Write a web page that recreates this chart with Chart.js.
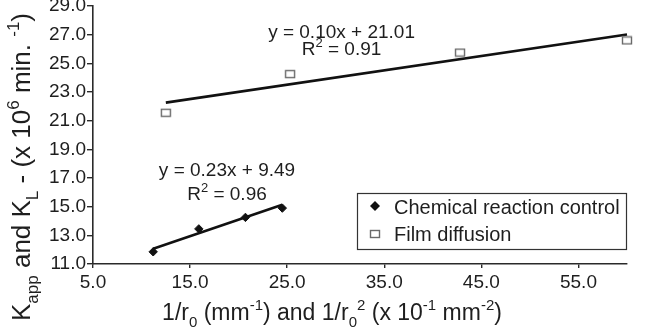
<!DOCTYPE html>
<html><head><meta charset="utf-8">
<script src="https://cdn.jsdelivr.net/npm/chart.js@4.4.1/dist/chart.umd.min.js"></script>
<style>html,body{margin:0;padding:0;background:#fff}#wrap{width:650px;height:328px}</style>
</head><body><div id="wrap"><canvas id="c" width="650" height="328"></canvas></div>
<script>
// ---- data ----
const chemX = [11.2, 15.9, 20.7, 24.5];
const chemY = [11.85, 13.45, 14.25, 14.9];
const filmX = [12.5, 25.3, 42.8, 60.0];
const filmY = [21.55, 24.25, 25.75, 26.6];
const chemTrendX = [11.2, 24.5];
const chemTrendY = [12.07, 15.13];
const filmTrendX = [12.5, 60.0];
const filmTrendY = [22.26, 27.01];
const xTicks = [5, 15, 25, 35, 45, 55];
const yTicks = [11, 13, 15, 17, 19, 21, 23, 25, 27, 29];
const seriesNames = ["Chemical reaction control", "Film diffusion"];
const filmEq = ["y = 0.10x + 21.01", "R2 = 0.91"];
const chemEq = ["y = 0.23x + 9.49", "R2 = 0.96"];

const FONT = "'Liberation Sans', Arial, Helvetica, sans-serif";
const TXT = "#1e1e1e";

function pts(xs, ys){ return xs.map((x,i)=>({x:x, y:ys[i]})); }

function richWidth(ctx, segs, f){
  let w=0;
  for(const [t,m] of segs){ ctx.font=(m==='n'?f:Math.round(f*0.66))+"px "+FONT; w+=ctx.measureText(t).width; }
  return w;
}
function drawRich(ctx, segs, x, y, f){
  let cx=x;
  for(const [t,m] of segs){
    const fs = m==='n'?f:Math.round(f*0.66);
    ctx.font=fs+"px "+FONT;
    const dy = m==='sub'? f*0.3 : (m==='sup'? -f*0.42 : 0);
    ctx.fillText(t, cx, y+dy);
    cx += ctx.measureText(t).width;
  }
}
function splitR2(s){ return [["R",'n'],["2",'sup'],[s.slice(2),'n']]; }

const sq = document.createElement('canvas'); sq.width=12; sq.height=10;
(function(){const g=sq.getContext('2d'); g.fillStyle='#fff'; g.fillRect(1,1,10,8); g.strokeStyle='#6a6a6a'; g.lineWidth=1.4; g.strokeRect(1.5,1.5,9,7);})();

const decor = {
  id:'decor',
  afterDraw(chart){
    const ctx=chart.ctx, xs=chart.scales.x, ys=chart.scales.y;
    ctx.save();
    ctx.fillStyle=TXT; ctx.textBaseline='alphabetic'; ctx.textAlign='left';
    function eq(lines, cxv, yv1, yv2, f){
      const px=xs.getPixelForValue(cxv);
      const s1=[[lines[0],'n']];
      let w=richWidth(ctx,s1,f); drawRich(ctx,s1,px-w/2,ys.getPixelForValue(yv1),f);
      const s2=splitR2(lines[1]);
      w=richWidth(ctx,s2,f); drawRich(ctx,s2,px-w/2,ys.getPixelForValue(yv2),f);
    }
    eq(filmEq, 30.6, 26.75, 25.55, 19);
    eq(chemEq, 18.8, 17.15, 15.45, 19);
    const xt=[["1/r",'n'],["0",'sub'],[" (mm",'n'],["-1",'sup'],[") and 1/r",'n'],["0",'sub'],["2",'sup'],[" (x 10",'n'],["-1",'sup'],[" mm",'n'],["-2",'sup'],[")",'n']];
    const xf=23;
    let w=richWidth(ctx,xt,xf);
    drawRich(ctx,xt,332-w/2,320,xf);
    const yt=[["K",'n'],["app",'sub'],[" and K",'n'],["L",'sub'],[" - (x 10",'n'],["6",'sup'],[" min. ",'n'],["-1",'sup'],[")",'n']];
    ctx.save(); ctx.translate(30,321); ctx.rotate(-Math.PI/2);
    drawRich(ctx,yt,0,0,26);
    ctx.restore();
    const lx=357, ly=193, lw=269, lh=56;
    ctx.strokeStyle='#333'; ctx.lineWidth=1.2;
    ctx.strokeRect(lx+0.5,ly+0.5,lw,lh);
    ctx.fillStyle=TXT; ctx.font="20px "+FONT;
    ctx.fillText(seriesNames[0], lx+37, ly+21);
    ctx.fillText(seriesNames[1], lx+37, ly+48);
    ctx.beginPath(); const mx=lx+18, my1=ly+13;
    ctx.moveTo(mx,my1-5); ctx.lineTo(mx+5,my1); ctx.lineTo(mx,my1+5); ctx.lineTo(mx-5,my1); ctx.closePath();
    ctx.fillStyle='#111'; ctx.fill();
    ctx.drawImage(sq, mx-6, ly+36);
    ctx.restore();
  }
};

new Chart(document.getElementById('c'), {
  type:'scatter',
  data:{ datasets:[
    {label:'chemTrend', data:pts(chemTrendX,chemTrendY), showLine:true, borderColor:'#111', borderWidth:2.6, pointRadius:0, order:2, clip:false},
    {label:'filmTrend', data:pts(filmTrendX,filmTrendY), showLine:true, borderColor:'#111', borderWidth:2.6, pointRadius:0, order:2, clip:false},
    {label:seriesNames[0], data:pts(chemX,chemY), pointStyle:'rectRot', pointRadius:4.2, backgroundColor:'#111', borderColor:'#111', borderWidth:1, order:1, clip:false},
    {label:seriesNames[1], data:pts(filmX,filmY), pointStyle:sq, pointRadius:5, order:1, clip:false}
  ]},
  options:{
    responsive:false, animation:false, devicePixelRatio:1,
    layout:{padding:{top:5,right:23,left:0,bottom:0}},
    plugins:{legend:{display:false}, tooltip:{enabled:false}},
    scales:{
      x:{type:'linear', min:5, max:60,
        afterBuildTicks:s=>{s.ticks=xTicks.map(v=>({value:v}));},
        afterFit:s=>{s.height=64; s.paddingLeft=0; s.paddingRight=0;},
        border:{display:true,color:'#2a2a2a',width:1.6},
        grid:{display:true,drawOnChartArea:false,drawTicks:true,tickLength:4,color:'#2a2a2a',lineWidth:1.4},
        ticks:{color:TXT,font:{family:FONT,size:19},padding:3,maxRotation:0,callback:v=>Number(v).toFixed(1)}
      },
      y:{type:'linear', min:11, max:29,
        afterBuildTicks:s=>{s.ticks=yTicks.map(v=>({value:v}));},
        afterFit:s=>{s.width=93; s.paddingTop=0; s.paddingBottom=0;},
        border:{display:true,color:'#2a2a2a',width:1.6},
        grid:{display:true,drawOnChartArea:false,drawTicks:true,tickLength:6,color:'#2a2a2a',lineWidth:1.4},
        ticks:{color:TXT,font:{family:FONT,size:19},padding:1,callback:v=>Number(v).toFixed(1)}
      }
    }
  },
  plugins:[decor]
});
</script></body></html>
